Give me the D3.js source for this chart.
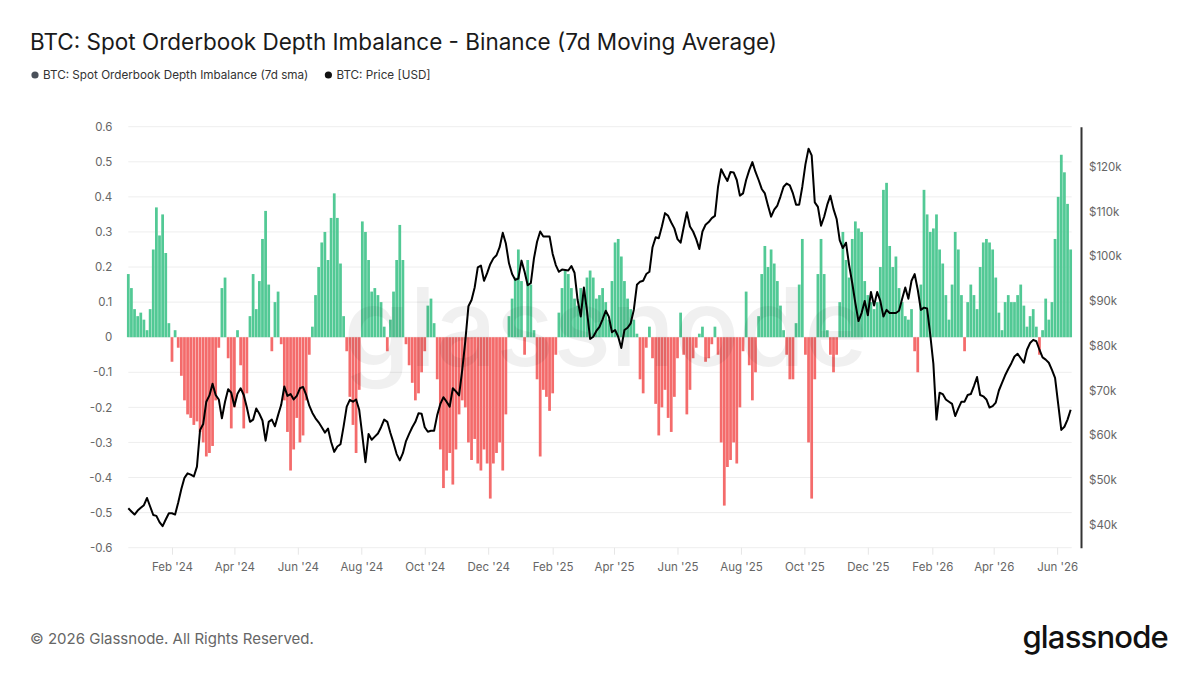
<!DOCTYPE html>
<html>
<head>
<meta charset="utf-8">
<script src="https://cdn.jsdelivr.net/npm/d3@7"></script>
<style>
  html, body { margin: 0; padding: 0; background: #fff; }
  body { width: 1200px; height: 675px; overflow: hidden; font-family: Inter, "Noto Sans", sans-serif; }
</style>
</head>
<body>
<div class="chart"></div>
<script>
// series sampled every 3 days starting 21 Dec 2023
const startDate = "2023-12-21";
const stepDays = 3;

// 7d sma of spot orderbook depth imbalance
const imbalance = [
  0.18, 0.14, 0.08, 0.06, 0.07, 0.05, 0.02, 0.08, 0.25, 0.37,
  0.29, 0.35, 0.24, 0.04, -0.07, 0.02, -0.03, -0.11, -0.18, -0.22,
  -0.23, -0.25, -0.24, -0.27, -0.30, -0.34, -0.33, -0.31, -0.18, -0.03,
  0.14, 0.17, -0.06, -0.26, -0.20, 0.02, -0.08, -0.26, -0.16, 0.06,
  0.18, 0.08, 0.16, 0.28, 0.36, 0.15, -0.04, 0.10, 0.13, -0.02,
  -0.18, -0.27, -0.38, -0.32, -0.23, -0.30, -0.28, -0.18, -0.05, 0.03,
  0.12, 0.20, 0.27, 0.30, 0.22, 0.34, 0.41, 0.34, 0.21, 0.06,
  -0.04, -0.17, -0.25, -0.33, -0.15, 0.33, 0.30, 0.22, 0.13, 0.14,
  0.12, 0.10, 0.03, -0.04, 0.05, 0.13, 0.22, 0.32, 0.22, -0.02,
  -0.08, -0.13, -0.18, -0.16, -0.10, -0.04, 0.09, 0.11, 0.04, -0.12,
  -0.32, -0.43, -0.38, -0.33, -0.42, -0.32, -0.22, -0.18, -0.20, -0.30,
  -0.35, -0.29, -0.36, -0.38, -0.32, -0.36, -0.46, -0.36, -0.33, -0.30,
  -0.38, -0.22, 0.06, 0.11, 0.17, 0.25, 0.16, -0.05, 0.22, 0.15,
  0.02, -0.12, -0.34, -0.15, -0.17, -0.21, -0.16, -0.05, 0.07, 0.14,
  0.19, 0.18, 0.14, 0.11, 0.09, 0.14, 0.12, 0.17, 0.19, 0.17,
  0.11, 0.12, 0.14, 0.10, 0.05, 0.16, 0.27, 0.28, 0.23, 0.16,
  0.11, 0.08, 0.05, 0.01, -0.12, -0.16, -0.03, 0.03, -0.06, -0.19,
  -0.28, -0.20, -0.15, -0.23, -0.27, -0.17, -0.06, 0.07, -0.05, -0.22,
  -0.15, -0.06, -0.03, 0.01, 0.03, -0.07, -0.06, -0.02, 0.03, -0.05,
  -0.30, -0.48, -0.37, -0.35, -0.30, -0.36, -0.20, -0.04, 0.13, -0.08,
  -0.18, -0.10, 0.06, 0.18, 0.26, 0.20, 0.25, 0.21, 0.16, 0.09,
  0.02, -0.05, -0.12, -0.12, 0.04, 0.15, 0.28, -0.05, -0.30, -0.46,
  -0.12, 0.18, 0.28, 0.18, 0.02, -0.05, -0.10, -0.05, 0.10, 0.30,
  0.22, 0.17, 0.28, 0.33, 0.31, 0.30, 0.16, 0.12, 0.10, 0.08,
  0.10, 0.20, 0.42, 0.44, 0.26, 0.20, 0.23, 0.14, 0.10, 0.06,
  0.05, 0.08, -0.04, -0.10, 0.15, 0.42, 0.35, 0.30, 0.31, 0.35,
  0.25, 0.21, 0.12, 0.05, 0.15, 0.30, 0.25, 0.12, -0.04, 0.10,
  0.15, 0.12, 0.08, 0.20, 0.27, 0.28, 0.27, 0.25, 0.17, 0.07,
  0.02, 0.10, 0.12, 0.10, 0.10, 0.12, 0.15, 0.09, 0.03, 0.06,
  0.08, 0.03, -0.05, 0.02, 0.11, 0.05, 0.10, 0.28, 0.40, 0.52,
  0.47, 0.38, 0.25
];

// BTC price, thousands of USD
const priceK = [
  43.7, 43.0, 42.3, 43.2, 43.8, 44.4, 46.0, 44.1, 42.2, 42.0,
  40.6, 39.7, 41.2, 42.6, 42.6, 42.3, 45.0, 48.0, 50.5, 51.5,
  51.2, 50.8, 53.0, 61.2, 62.5, 67.5, 68.9, 71.5, 69.0, 68.0,
  63.8, 67.5, 70.3, 69.5, 66.5, 69.3, 70.5, 69.0, 66.2, 63.0,
  63.5, 66.0, 64.8, 63.3, 58.8, 63.0, 63.5, 62.0, 64.5, 66.8,
  70.9, 68.8, 69.2, 68.0, 68.8, 70.5, 70.8, 69.0, 66.6, 65.0,
  63.8, 62.9, 61.8, 60.6, 61.5, 58.5, 56.3, 57.5, 58.0, 62.0,
  66.4, 67.9, 67.5, 68.0, 65.7, 60.0, 54.0, 60.3, 59.0, 59.7,
  60.4, 61.8, 63.5, 63.0, 60.5, 58.3, 55.8, 54.4, 56.0, 58.7,
  60.3, 61.8, 63.0, 64.9, 64.8, 61.8, 60.8, 61.0, 61.0, 64.5,
  67.0, 68.5, 67.5, 66.4, 70.5, 69.8, 68.9, 74.5, 81.0, 88.8,
  90.2, 93.0, 97.5, 97.9, 94.5, 96.2, 98.2, 99.5, 100.2, 102.0,
  105.2, 102.8, 98.4, 96.0, 94.7, 95.0, 99.0, 96.5, 93.5, 94.0,
  99.5, 103.2, 105.5, 104.4, 104.4, 104.4, 100.5, 98.0, 96.5, 97.0,
  96.9, 96.8, 97.8, 96.3, 90.2, 86.5, 93.0, 87.8, 81.5, 82.0,
  83.3, 84.2, 85.9, 87.8, 86.5, 83.0, 83.5, 82.0, 79.5, 83.5,
  84.0, 85.0, 88.0, 93.6, 94.3, 94.5, 96.0, 96.5, 102.0, 104.2,
  104.0, 106.6, 109.6, 109.0, 107.5, 106.2, 103.8, 103.0, 106.5, 109.8,
  106.6, 105.5, 103.8, 101.6, 105.5, 107.0, 107.6, 108.5, 109.0, 115.5,
  119.4, 118.0, 116.8, 118.8, 118.7, 117.0, 113.5, 114.0, 117.0, 119.2,
  121.0, 118.8, 117.0, 115.0, 114.0, 111.3, 108.8, 110.4, 111.3, 113.3,
  115.5, 116.2, 115.8, 114.0, 111.5, 111.5, 115.5, 120.5, 124.0, 122.5,
  112.0, 111.0, 106.8, 108.8, 111.5, 113.5, 110.5, 108.3, 103.5, 101.8,
  103.0, 98.0, 94.0, 89.5, 85.5, 87.3, 90.0, 86.8, 92.0, 89.0,
  92.0, 90.0, 86.5, 88.0, 87.3, 87.3, 87.3, 87.8, 90.5, 93.0,
  90.5, 94.5, 96.0, 92.5, 88.0, 88.5, 88.3, 82.5, 76.0, 63.5,
  69.5, 69.2, 68.0, 67.5, 67.0, 64.3, 66.0, 67.5, 67.5, 69.0,
  69.2, 71.0, 73.0, 69.0, 68.7, 68.0, 66.2, 66.5, 67.3, 70.0,
  71.7, 73.4, 74.8, 76.1, 77.6, 78.2, 77.2, 76.2, 79.1, 80.6,
  81.3, 81.0, 79.1, 77.4, 76.9, 76.2, 74.6, 72.8, 67.0, 61.2,
  61.9, 63.5, 65.7
];

const leftTicks = [-0.6, -0.5, -0.4, -0.3, -0.2, -0.1, 0, 0.1, 0.2, 0.3, 0.4, 0.5, 0.6];
const priceTicks = [40000, 50000, 60000, 70000, 80000, 90000, 100000, 110000, 120000];
const monthTicks = ["2024-02-01", "2024-04-01", "2024-06-01", "2024-08-01", "2024-10-01", "2024-12-01",
  "2025-02-01", "2025-04-01", "2025-06-01", "2025-08-01", "2025-10-01", "2025-12-01",
  "2026-02-01", "2026-04-01", "2026-06-01"];
const legendItems = [
  { label: "BTC: Spot Orderbook Depth Imbalance (7d sma)", color: "#4a505a" },
  { label: "BTC: Price [USD]", color: "#111" }
];

var w = 1200,
	h = 675,
	plotLeft = 128.3,
	plotRight = 1071.7,
	plotTop = 126.7,
	plotBottom = 547.7;

const parse = d3.timeParse("%Y-%m-%d");
const t0 = parse(startDate);
const dataset = imbalance.map((v, i) => ({
	date: d3.timeDay.offset(t0, i * stepDays),
	imb: v,
	price: priceK[i] * 1000
}));

const svg = d3.select(".chart").append("svg").attr("width", w).attr("height", h);

const xScale = d3.scaleTime()
	.domain([t0, parse("2026-06-15")])
	.range([plotLeft, plotRight]);
const yScale = d3.scaleLinear().domain([-0.6, 0.6]).range([plotBottom, plotTop]);
const pScale = d3.scaleLinear().domain([34900, 128900]).range([plotBottom, plotTop]);

// title + legend
svg.append("text")
	.attr("x", 30).attr("y", 50)
	.attr("font-size", 22.5).attr("fill", "#1a1a1a")
	.text("BTC: Spot Orderbook Depth Imbalance - Binance (7d Moving Average)");

let lx = 35;
legendItems.forEach((item) => {
	svg.append("circle").attr("cx", lx).attr("cy", 75).attr("r", 3.6).attr("fill", item.color);
	const t = svg.append("text")
		.attr("x", lx + 8).attr("y", 79)
		.attr("font-size", 11.7).attr("fill", "#333")
		.text(item.label);
	lx += 8 + t.node().getComputedTextLength() + 20;
});

// grid
svg.append("g")
	.selectAll("line")
	.data(leftTicks)
	.enter()
	.append("line")
	.attr("x1", plotLeft).attr("x2", plotRight)
	.attr("y1", (d) => yScale(d)).attr("y2", (d) => yScale(d))
	.attr("stroke", "#eeeeee").attr("stroke-width", 1);

// left axis
const yAxis = d3.axisLeft(yScale)
	.tickValues(leftTicks)
	.tickSize(0)
	.tickPadding(16)
	.tickFormat((d) => (d === 0 ? "0" : d.toFixed(1)));
svg.append("g")
	.attr("id", "y-axis")
	.attr("transform", "translate(" + plotLeft + ",0)")
	.call(yAxis)
	.call((g) => g.select(".domain").remove())
	.selectAll("text")
	.attr("font-family", "Inter, 'Noto Sans', sans-serif")
	.attr("font-size", 11.5)
	.attr("fill", "#666");

// x axis
const xAxis = d3.axisBottom(xScale)
	.tickValues(monthTicks.map(parse))
	.tickSize(7)
	.tickPadding(8)
	.tickFormat(d3.timeFormat("%b '%y"));
const gx = svg.append("g")
	.attr("id", "x-axis")
	.attr("transform", "translate(0," + plotBottom + ")")
	.call(xAxis);
gx.select(".domain").remove();
gx.selectAll("line").attr("stroke", "#e6e6e6");
gx.selectAll("text")
	.attr("font-family", "Inter, 'Noto Sans', sans-serif")
	.attr("font-size", 11.5)
	.attr("fill", "#666");

// bars
const bw = 3.12 * 0.88;
svg.append("g")
	.selectAll("rect")
	.data(dataset)
	.enter()
	.append("rect")
	.attr("x", (d) => xScale(d.date) - bw / 2)
	.attr("y", (d) => (d.imb >= 0 ? yScale(d.imb) : yScale(0)))
	.attr("width", bw)
	.attr("height", (d) => Math.abs(yScale(d.imb) - yScale(0)))
	.attr("fill", (d) => (d.imb >= 0 ? "#52c995" : "#f46b6b"))
	.attr("class", "bar");

// watermark
svg.append("text")
	.attr("x", 605).attr("y", 366)
	.attr("text-anchor", "middle")
	.attr("font-size", 108)
	.attr("font-weight", 500)
	.attr("fill", "#000")
	.attr("fill-opacity", 0.06)
	.attr("letter-spacing", -1)
	.text("glassnode");

// price line
const line = d3.line()
	.x((d) => xScale(d.date))
	.y((d) => pScale(d.price))
	.curve(d3.curveLinear);
svg.append("path")
	.datum(dataset)
	.attr("d", line)
	.attr("fill", "none")
	.attr("stroke", "#000")
	.attr("stroke-width", 2)
	.attr("stroke-linejoin", "round");

// right axis
const pAxis = d3.axisRight(pScale)
	.tickValues(priceTicks)
	.tickSize(0)
	.tickPadding(8)
	.tickFormat((d) => "$" + d / 1000 + "k");
const gp = svg.append("g")
	.attr("id", "p-axis")
	.attr("transform", "translate(1081,0)")
	.call(pAxis);
gp.select(".domain").attr("stroke", "#333").attr("stroke-width", 2);
gp.selectAll("text")
	.attr("font-family", "Inter, 'Noto Sans', sans-serif")
	.attr("font-size", 11.5)
	.attr("fill", "#666");

// footer
svg.append("text")
	.attr("x", 30).attr("y", 644)
	.attr("font-size", 15).attr("fill", "#666")
	.text("© 2026 Glassnode. All Rights Reserved.");
svg.append("text")
	.attr("x", 1168).attr("y", 648)
	.attr("text-anchor", "end")
	.attr("font-size", 31)
	.attr("font-weight", 500)
	.attr("letter-spacing", -0.8)
	.attr("fill", "#111")
	.text("glassnode");
</script>
</body>
</html>
